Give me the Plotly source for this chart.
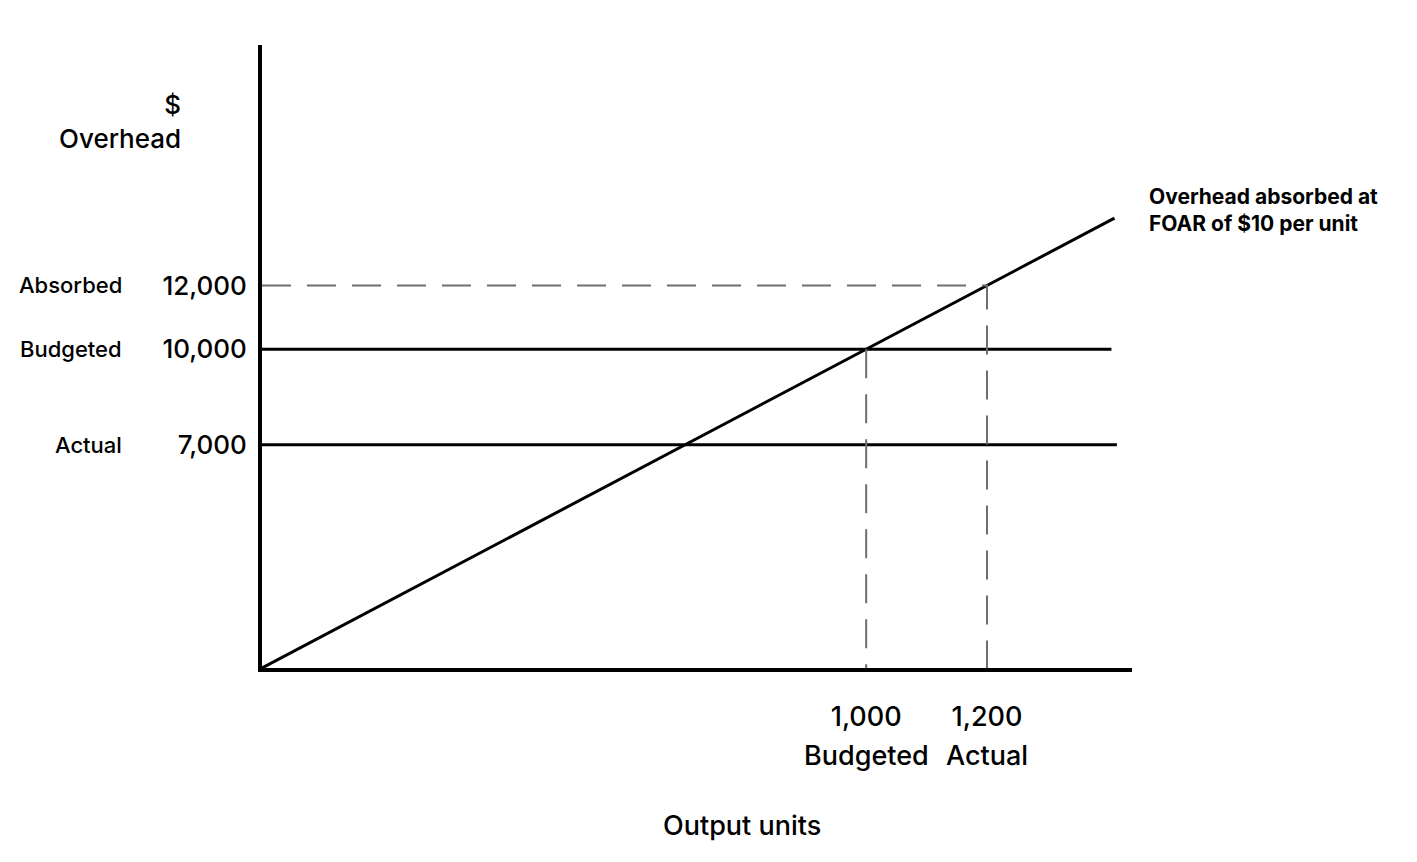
import plotly.graph_objects as go

# ---- data ----
unit_marks = [1000, 1200]                 # output units marked on x axis
unit_values_text = ["1,000", "1,200"]
unit_names = ["Budgeted", "Actual"]
overhead_levels = [12000, 10000, 7000]    # $ overhead levels
overhead_text = ["12,000", "10,000", "7,000"]
overhead_names = ["Absorbed", "Budgeted", "Actual"]
foar = 10                                 # $ per unit
absorbed_line_units = [0, 1411]
budgeted_line_units = [0, 1406]
actual_line_units = [0, 1415]

FONT = "Inter"
W = 500
fig = go.Figure()

# absorbed overhead line (FOAR x units)
fig.add_trace(go.Scatter(x=absorbed_line_units, y=[u * foar for u in absorbed_line_units],
                         mode="lines", line=dict(color="black", width=3), hoverinfo="skip"))
# budgeted overhead (horizontal)
fig.add_trace(go.Scatter(x=budgeted_line_units, y=[overhead_levels[1]] * 2,
                         mode="lines", line=dict(color="black", width=3), hoverinfo="skip"))
# actual overhead (horizontal)
fig.add_trace(go.Scatter(x=actual_line_units, y=[overhead_levels[2]] * 2,
                         mode="lines", line=dict(color="black", width=3), hoverinfo="skip"))
# dashed guide: absorbed at actual output
fig.add_trace(go.Scatter(x=[0, unit_marks[1], unit_marks[1]],
                         y=[overhead_levels[0], overhead_levels[0], 0],
                         mode="lines", line=dict(color="#6e6e6e", width=2, dash="29px,16px"),
                         hoverinfo="skip"))
# dashed guide: budgeted output
fig.add_trace(go.Scatter(x=[unit_marks[0], unit_marks[0]], y=[overhead_levels[1], 0],
                         mode="lines", line=dict(color="#6e6e6e", width=2, dash="29px,16px"),
                         hoverinfo="skip"))

annotations = []
for lvl, name in zip(overhead_levels, overhead_names):
    annotations.append(dict(x=-0.159, xref="paper", y=lvl, yref="y", text=name,
                            xanchor="right", yanchor="middle", showarrow=False,
                            font=dict(family=FONT, size=22, color="black", weight=W)))
for u, name in zip(unit_marks, unit_names):
    annotations.append(dict(x=u, xref="x", y=-0.1397, yref="paper", text=name,
                            xanchor="center", yanchor="middle", showarrow=False,
                            font=dict(family=FONT, size=27, color="black", weight=W)))
annotations.append(dict(x=-0.091, xref="paper", y=0.878, yref="paper", text="$<br>Overhead",
                        xanchor="right", yanchor="middle", align="right", showarrow=False,
                        font=dict(family=FONT, size=26, color="black", weight=W)))
annotations.append(dict(x=1.017, xref="paper", y=0.780, yref="paper",
                        text="Overhead absorbed at<br>FOAR of $10 per unit",
                        xanchor="left", yanchor="top", align="left", showarrow=False,
                        font=dict(family=FONT, size=21, color="black", weight=700)))
annotations.append(dict(x=0.552, xref="paper", y=-0.2536, yref="paper", text="Output units",
                        xanchor="center", yanchor="middle", showarrow=False,
                        font=dict(family=FONT, size=27, color="black", weight=W)))

fig.update_layout(
    width=1417, height=862,
    margin=dict(l=254, r=293, t=37, b=202),
    paper_bgcolor="white", plot_bgcolor="white",
    showlegend=False,
    annotations=annotations,
    xaxis=dict(range=[0, 1440], showgrid=False, zeroline=False, showline=True,
               linecolor="black", linewidth=4, tickvals=unit_marks, ticktext=unit_values_text,
               ticks="", ticklabelstandoff=22,
               tickfont=dict(family=FONT, size=27, color="black", weight=W)),
    yaxis=dict(range=[0, 19542], showgrid=False, zeroline=False, showline=True,
               linecolor="black", linewidth=4, tickvals=overhead_levels, ticktext=overhead_text,
               ticks="", ticklabelstandoff=6,
               tickfont=dict(family=FONT, size=26, color="black", weight=W)),
)

fig.write_html("out.html")
